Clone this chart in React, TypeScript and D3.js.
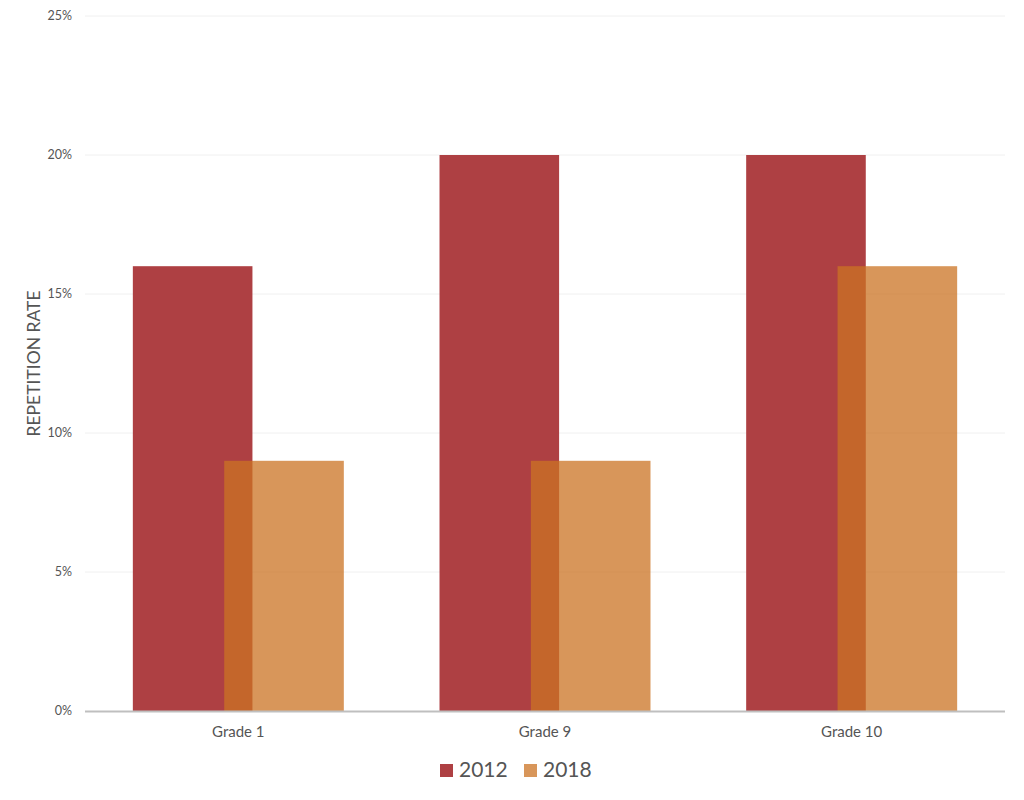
import React, { useEffect, useRef } from 'react';
import * as d3 from 'd3';

// Repetition rate by grade, two survey years
const grades = ['Grade 1', 'Grade 9', 'Grade 10'];
const years = ['2012', '2018'];
const rate2012 = [0.16, 0.2, 0.2];
const rate2018 = [0.09, 0.09, 0.16];
const yTicks = [0, 0.05, 0.1, 0.15, 0.2, 0.25];

const colors: Record<string, string> = { '2012': '#ae4043', '2018': '#cb7323' };
const opacity: Record<string, number> = { '2012': 1, '2018': 0.75 };

export default function App() {
  const ref = useRef<SVGSVGElement>(null);

  useEffect(() => {
    if (!ref.current) return;
    const svg = d3.select(ref.current);
    svg.selectAll('*').remove();

    const width = 1024;
    const height = 800;
    const margin = { top: 16, right: 19, bottom: 89, left: 85 };
    const font = "Lato, 'Open Sans', sans-serif";
    const textColor = '#555555';

    const x = d3.scaleBand<string>()
      .domain(grades)
      .range([margin.left, width - margin.right])
      .padding(0);

    const y = d3.scaleLinear()
      .domain([0, 0.25])
      .range([height - margin.bottom, margin.top]);

    const barWidth = x.bandwidth() * 0.39;
    // the two bars overlap: offset of each bar centre from the band centre
    const offset = d3.scalePoint<string>()
      .domain(years)
      .range([-x.bandwidth() * 0.149, x.bandwidth() * 0.149]);

    // gridlines
    svg.append('g')
      .selectAll('line')
      .data(yTicks.filter(t => t > 0))
      .enter()
      .append('line')
      .attr('x1', margin.left)
      .attr('x2', width - margin.right)
      .attr('y1', d => y(d))
      .attr('y2', d => y(d))
      .attr('stroke', '#f0f0f0')
      .attr('stroke-width', 1);

    // y tick labels
    svg.append('g')
      .selectAll('text')
      .data(yTicks)
      .enter()
      .append('text')
      .attr('x', 72)
      .attr('y', d => y(d))
      .attr('dy', '0.35em')
      .attr('text-anchor', 'end')
      .attr('font-family', font)
      .attr('font-size', 12.5)
      .attr('fill', textColor)
      .text(d => d3.format('.0%')(d));

    // y axis title
    svg.append('text')
      .attr('transform', `translate(40, ${y(0.125)}) rotate(-90)`)
      .attr('text-anchor', 'middle')
      .attr('font-family', font)
      .attr('font-size', 17.5)
      .attr('fill', textColor)
      .text('REPETITION RATE');

    const series = [
      { year: '2012', values: rate2012 },
      { year: '2018', values: rate2018 },
    ];

    series.forEach(s => {
      svg.append('g')
        .selectAll('rect')
        .data(s.values)
        .enter()
        .append('rect')
        .attr('x', (d, i) => (x(grades[i]) ?? 0) + x.bandwidth() / 2 + (offset(s.year) ?? 0) - barWidth / 2)
        .attr('y', d => y(d))
        .attr('width', barWidth)
        .attr('height', d => y(0) - y(d))
        .attr('fill', colors[s.year])
        .attr('fill-opacity', opacity[s.year]);
    });

    // baseline
    svg.append('line')
      .attr('x1', margin.left)
      .attr('x2', width - margin.right)
      .attr('y1', y(0) + 0.5)
      .attr('y2', y(0) + 0.5)
      .attr('stroke', '#bfbfbf')
      .attr('stroke-width', 2);

    // category labels
    svg.append('g')
      .selectAll('text')
      .data(grades)
      .enter()
      .append('text')
      .attr('x', d => (x(d) ?? 0) + x.bandwidth() / 2)
      .attr('y', y(0) + 26)
      .attr('text-anchor', 'middle')
      .attr('font-family', font)
      .attr('font-size', 15)
      .attr('fill', textColor)
      .text(d => d);

    // legend
    const legend = svg.append('g').attr('transform', 'translate(440, 764)');
    years.forEach((yr, i) => {
      const row = legend.append('g').attr('transform', `translate(${i * 84}, 0)`);
      row.append('rect')
        .attr('width', 13)
        .attr('height', 13)
        .attr('fill', colors[yr])
        .attr('fill-opacity', opacity[yr]);
      row.append('text')
        .attr('x', 19)
        .attr('y', 13)
        .attr('font-family', font)
        .attr('font-size', 21)
        .attr('fill', textColor)
        .text(yr);
    });
  }, []);

  return (
    <svg
      ref={ref}
      width={1024}
      height={800}
      style={{ position: 'absolute', left: 0, top: 0, background: '#fff' }}
    />
  );
}
